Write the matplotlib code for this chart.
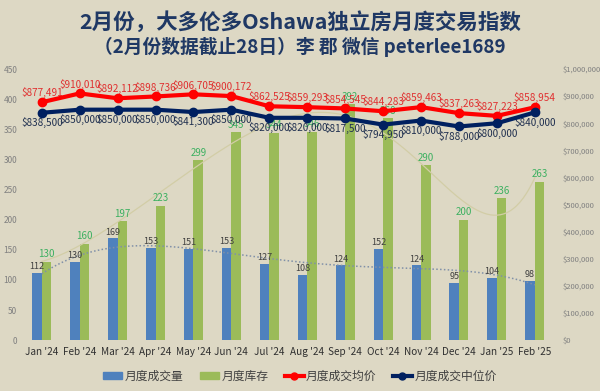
import numpy as np
import matplotlib
matplotlib.use("Agg")
import matplotlib.pyplot as plt
from matplotlib.lines import Line2D
from matplotlib.patches import Patch

plt.rcParams['font.family'] = ['Noto Sans CJK SC', 'DejaVu Sans']

months = ["Jan '24", "Feb '24", "Mar '24", "Apr '24", "May '24", "Jun '24", "Jul '24",
          "Aug '24", "Sep '24", "Oct '24", "Nov '24", "Dec '24", "Jan '25", "Feb '25"]
sales = [112, 130, 169, 153, 151, 153, 127, 108, 124, 152, 124, 95, 104, 98]
inventory = [130, 160, 197, 223, 299, 345, 344, 346, 392, 368, 290, 200, 236, 263]
avg_price = [877491, 910010, 892112, 898736, 906705, 900172, 862525, 859293, 854545,
             844283, 859463, 837263, 827223, 858954]
median_price = [838500, 850000, 850000, 850000, 841300, 850000, 820000, 820000, 817500,
                794950, 810000, 788000, 800000, 840000]

bg = '#DDD8C4'
c_sales = '#4F81BD'
c_inv = '#9BBB59'
c_avg = '#FF0000'
c_med = '#002060'

fig = plt.figure(figsize=(6, 3.91), dpi=100, facecolor=bg)
ax = fig.add_axes([0.038, 0.130, 0.885, 0.6935])
ax.set_facecolor(bg)
x = np.arange(len(months))
w = 0.25
ax.bar(x - w/2, sales, w, color=c_sales, zorder=2)
ax.bar(x + w/2, inventory, w, color=c_inv, zorder=2)

# trendlines
xs = np.linspace(0, len(months) - 1, 300)
p_inv = np.polyfit(x, inventory, 6)
ax.plot(xs, np.polyval(p_inv, xs), color='#D2CDA6', lw=0.9, zorder=3)
p_s = np.polyfit(x, sales, 4)
ax.plot(xs, np.polyval(p_s, xs), color='#8090A8', lw=1.1, ls=(0, (1, 1.5)), zorder=3)

for xi, v in zip(x, sales):
    ax.text(xi - w/2, v + 3, str(v), ha='center', va='bottom', fontsize=6.5, color='#404040', zorder=5)
for xi, v in zip(x, inventory):
    ax.text(xi + w/2, v + 4, str(v), ha='center', va='bottom', fontsize=7, color='#3CB060', zorder=5)

ax.set_ylim(0, 450)
ax.set_yticks(range(0, 451, 50))
ax.set_xlim(-0.5, len(months) - 0.5)
ax.set_xticks(x)
ax.set_xticklabels(months, fontsize=7.2, color='#303030')
ax.tick_params(axis='y', labelsize=6, colors='#808080', length=0, pad=4)
ax.tick_params(axis='x', length=0, pad=5)
for s in ax.spines.values():
    s.set_visible(False)

ax2 = ax.twinx()
ax2.set_ylim(0, 1000000)
ax2.set_yticks(range(0, 1000001, 100000))
ax2.set_yticklabels([f"${v:,.0f}" for v in range(0, 1000001, 100000)])
ax2.tick_params(axis='y', labelsize=5.5, colors='#808080', length=0, pad=6)
for s in ax2.spines.values():
    s.set_visible(False)
ax2.plot(x, avg_price, color=c_avg, lw=3, marker='o', ms=6, zorder=4)
ax2.plot(x, median_price, color=c_med, lw=3, marker='o', ms=6, zorder=4)
for xi, v in zip(x, avg_price):
    ax2.text(xi, v + 14000, f"${v:,.0f}", ha='center', va='bottom', fontsize=7.2, color='#E03030')
for xi, v in zip(x, median_price):
    ax2.text(xi, v - 16000, f"${v:,.0f}", ha='center', va='top', fontsize=7.2, color='#203050')

fig.text(0.5, 0.944, "2月份，大多伦多Oshawa独立房月度交易指数", ha='center', va='center',
         fontsize=15.5, fontweight='bold', color='#1F3864')
fig.text(0.5, 0.88, "（2月份数据截止28日）李 郡 微信 peterlee1689", ha='center', va='center',
         fontsize=13.5, fontweight='bold', color='#1F3864')

handles = [Patch(color=c_sales), Patch(color=c_inv),
           Line2D([0], [0], color=c_avg, lw=3, marker='o', ms=5),
           Line2D([0], [0], color=c_med, lw=3, marker='o', ms=5)]
labels = ["月度成交量", "月度库存", "月度成交均价", "月度成交中位价"]
fig.legend(handles, labels, loc='center', bbox_to_anchor=(0.5, 0.038), ncol=4, frameon=False,
           fontsize=8.5, handlelength=1.6, handleheight=0.5, handletextpad=0.2,
           columnspacing=1.4, labelcolor='#404040')

fig.savefig("out.png", dpi=100, facecolor=bg)
